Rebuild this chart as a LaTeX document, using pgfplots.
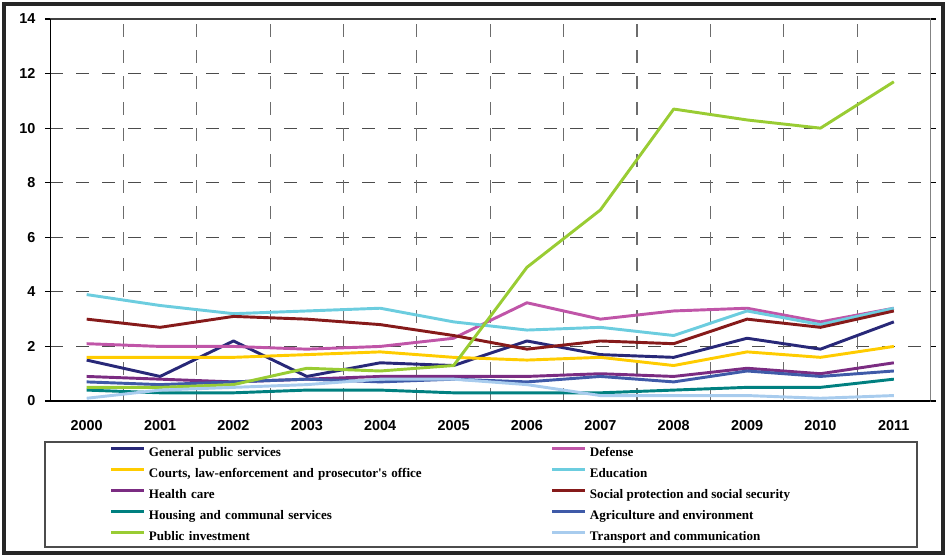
\documentclass[border=0pt]{standalone}
\usepackage{fontspec}
\usepackage{pgfplots}
\pgfplotsset{compat=1.18}
\setmainfont{Liberation Serif}
\newfontfamily\ticksfont{Liberation Sans}
\definecolor{cGPS}{RGB}{40,40,120}
\definecolor{cDef}{RGB}{192,85,168}
\definecolor{cCourt}{RGB}{255,204,0}
\definecolor{cEdu}{RGB}{108,205,223}
\definecolor{cHealth}{RGB}{123,44,130}
\definecolor{cSoc}{RGB}{134,26,26}
\definecolor{cHouse}{RGB}{0,128,128}
\definecolor{cAgri}{RGB}{63,90,168}
\definecolor{cInv}{RGB}{153,204,51}
\definecolor{cTrans}{RGB}{168,204,238}
\begin{document}
\begin{tikzpicture}[x=0.75pt,y=0.75pt]
\path[use as bounding box] (0,0) rectangle (946,557);
\begin{axis}[
  at={(37.5pt,117pt)}, anchor=south west,
  scale only axis, width=660.4pt, height=286.5pt,
  xmin=-0.5, xmax=11.5, ymin=0, ymax=14,
  axis line style={draw=none},
  xtick={0,...,11},
  xticklabels={2000,2001,2002,2003,2004,2005,2006,2007,2008,2009,2010,2011},
  xtick style={draw=none},
  extra x ticks={0.5,1.5,2.5,3.5,4.5,5.5,6.5,7.5,8.5,9.5,10.5},
  extra x tick labels={},
  extra x tick style={grid=major, tick style={draw=black, line width=0.9pt},
     major grid style={draw=gray!85!black, line width=0.8pt, dash pattern=on 10pt off 9.5pt}},
  ytick={0,2,...,14},
  ymajorgrids,
  y grid style={draw=black!70, line width=0.8pt, dash pattern=on 10pt off 9.5pt},
  ytick style={draw=black, line width=0.9pt},
  tick align=outside, major tick length=3.75pt,
  /pgf/number format/assume math mode=true,
  xticklabel style={font=\ticksfont\bfseries\fontsize{10.8}{12}\selectfont, yshift=-7.5pt},
  yticklabel style={font=\ticksfont\bfseries\fontsize{10.8}{12}\selectfont, xshift=-3.75pt},
  every axis plot/.append style={line width=2.2pt, line join=round},
  legend columns=2,
  legend cell align=left,
  legend image code/.code={\draw[#1, line width=2.25pt] (0pt,2.7pt) -- (24.75pt,2.7pt);},
  legend style={at={(0.0681,-0.1138)}, anchor=north west, draw=none, fill=none,
     inner sep=0pt, outer sep=0pt, column sep=0pt, row sep=3.75pt,
     nodes={inner xsep=2.25pt, inner ysep=0pt, text height=9pt, text depth=3pt,
       font=\fontsize{9.8}{11}\selectfont\bfseries},
     /tikz/column 2/.append style={text width=299.25pt}},
]
\addplot[cGPS] coordinates {(0,1.5)(1,0.9)(2,2.2)(3,0.9)(4,1.4)(5,1.3)(6,2.2)(7,1.7)(8,1.6)(9,2.3)(10,1.9)(11,2.9)};
\addlegendentry{General public services}
\addplot[cDef] coordinates {(0,2.1)(1,2.0)(2,2.0)(3,1.9)(4,2.0)(5,2.3)(6,3.6)(7,3.0)(8,3.3)(9,3.4)(10,2.9)(11,3.4)};
\addlegendentry{Defense}
\addplot[cCourt] coordinates {(0,1.6)(1,1.6)(2,1.6)(3,1.7)(4,1.8)(5,1.6)(6,1.5)(7,1.6)(8,1.3)(9,1.8)(10,1.6)(11,2.0)};
\addlegendentry{Courts, law-enforcement and prosecutor\textquotesingle s office}
\addplot[cEdu] coordinates {(0,3.9)(1,3.5)(2,3.2)(3,3.3)(4,3.4)(5,2.9)(6,2.6)(7,2.7)(8,2.4)(9,3.3)(10,2.8)(11,3.4)};
\addlegendentry{Education}
\addplot[cHealth] coordinates {(0,0.9)(1,0.8)(2,0.7)(3,0.8)(4,0.9)(5,0.9)(6,0.9)(7,1.0)(8,0.9)(9,1.2)(10,1.0)(11,1.4)};
\addlegendentry{Health care}
\addplot[cSoc] coordinates {(0,3.0)(1,2.7)(2,3.1)(3,3.0)(4,2.8)(5,2.4)(6,1.9)(7,2.2)(8,2.1)(9,3.0)(10,2.7)(11,3.3)};
\addlegendentry{Social protection and social security}
\addplot[cHouse] coordinates {(0,0.4)(1,0.3)(2,0.3)(3,0.4)(4,0.4)(5,0.3)(6,0.3)(7,0.3)(8,0.4)(9,0.5)(10,0.5)(11,0.8)};
\addlegendentry{Housing and communal services}
\addplot[cAgri] coordinates {(0,0.7)(1,0.6)(2,0.7)(3,0.8)(4,0.7)(5,0.8)(6,0.7)(7,0.9)(8,0.7)(9,1.1)(10,0.9)(11,1.1)};
\addlegendentry{Agriculture and environment}
\addplot[cInv] coordinates {(0,0.5)(1,0.5)(2,0.6)(3,1.2)(4,1.1)(5,1.3)(6,4.9)(7,7.0)(8,10.7)(9,10.3)(10,10.0)(11,11.7)};
\addlegendentry{Public investment}
\addplot[cTrans] coordinates {(0,0.1)(1,0.4)(2,0.5)(3,0.6)(4,0.8)(5,0.8)(6,0.6)(7,0.2)(8,0.2)(9,0.2)(10,0.1)(11,0.2)};
\addlegendentry{Transport and communication}
\draw[draw=black!75, line width=0.9pt] (rel axis cs:0,1) -- (rel axis cs:1,1) -- (rel axis cs:1,0);
\draw[draw=black, line width=1.2pt] (rel axis cs:0,1) -- (rel axis cs:0,0) -- (rel axis cs:1,0);
\end{axis}
\draw[draw=black!70, line width=0.9pt] (45,115) rectangle (917,10);
\draw[draw=black!85, line width=2.4pt] (4,4) rectangle (943,553);
\end{tikzpicture}
\end{document}
